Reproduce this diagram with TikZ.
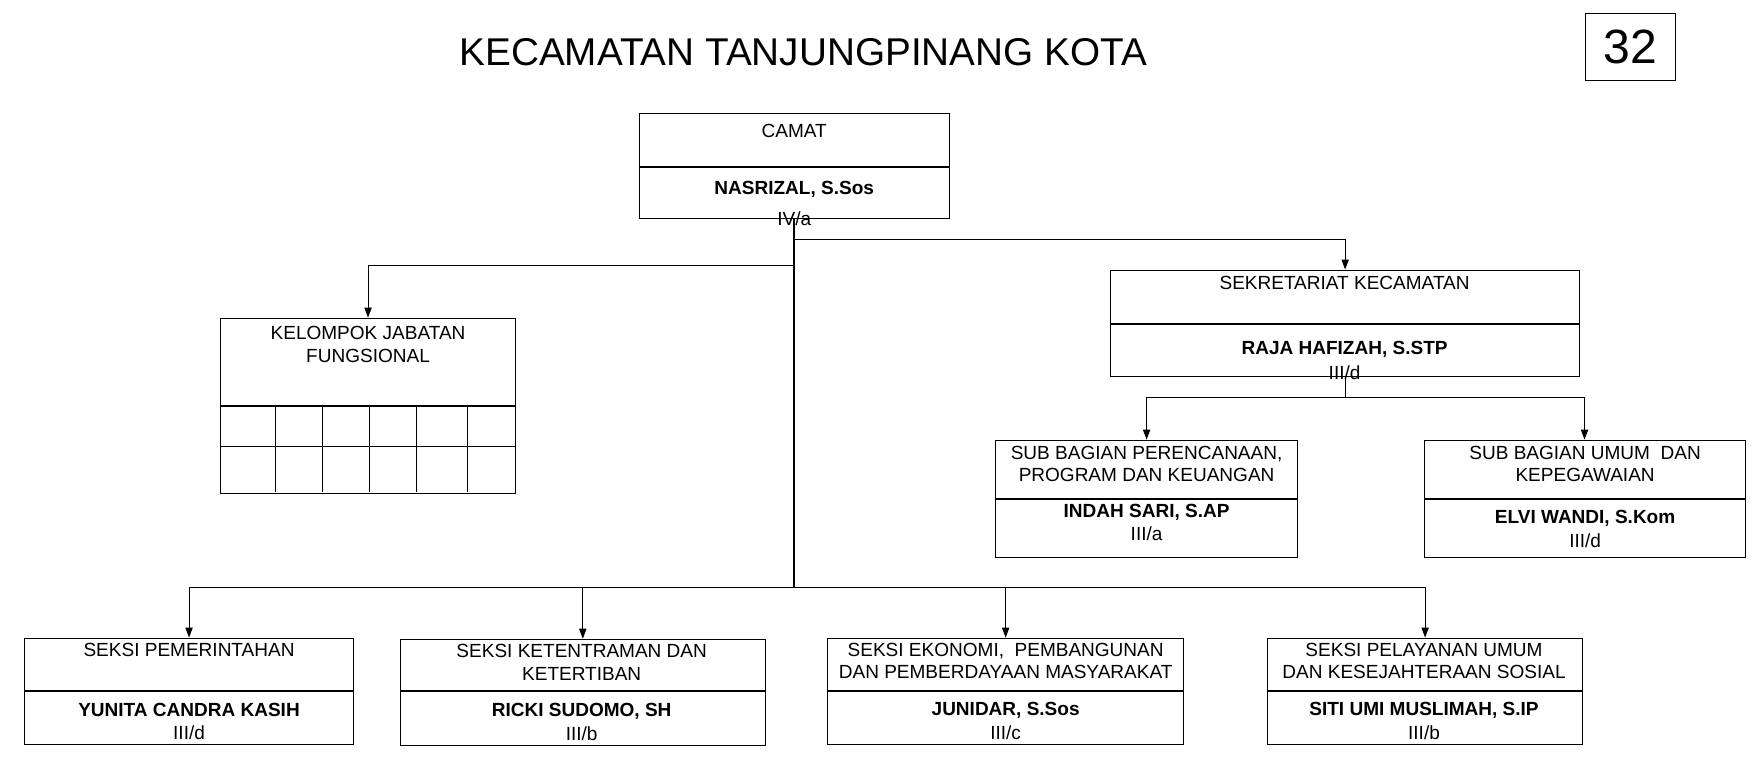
\documentclass[tikz,border=0pt]{standalone}
\usepackage{fontspec}
\setmainfont{Liberation Sans}
\usetikzlibrary{arrows.meta,positioning}
\tikzset{->/.style={-{Triangle[length=9pt,width=6.5pt]}},
  part/.style={draw,rectangle,inner sep=0pt,anchor=north},
  jab/.style={font=\fontsize{17}{20}\selectfont,align=center,inner sep=0pt},
  nama/.style={jab,font=\fontsize{17}{20}\selectfont\bfseries},
  gol/.style={jab}}

\begin{document}
\begin{tikzpicture}[x=1pt,y=-1pt,line width=0.9pt]
  \useasboundingbox (0,0) rectangle (1568,685.7);

  \node[inner sep=0pt,font=\fontsize{34.6}{40}\selectfont] (judul) at (718,46.5) {KECAMATAN TANJUNGPINANG KOTA};
  \node[draw,minimum width=81,minimum height=60.5,inner sep=0pt,font=\fontsize{43}{48}\selectfont] (hal) at (1457.5,42) {32};

  % camat
  \node[part,minimum width=277,minimum height=47] (camat) at (710,101) {};
  \node[part,minimum width=277,minimum height=46] (camatP) at (camat.south) {};
  \node[jab] (camatT) at (710,117) {CAMAT};
  \node[nama] (camatN) at (710,169) {NASRIZAL, S.Sos};
  \node[gol] (camatG) at (710,195.5) {IV/a};

  % kelompok jabatan fungsional
  \node[part,minimum width=264,minimum height=78] (kel) at (329,284) {};
  \node[part,minimum width=264,minimum height=78] (kelP) at (kel.south) {};
  \node[jab] (kelT) at (329,308) {KELOMPOK JABATAN\\FUNGSIONAL};
  \draw (kelP.west |- 0,399) -- (kelP.east |- 0,399);
  \foreach \gx in {246,288,330,372,418}
    \draw (\gx,362) -- (\gx,440);

  % sekretariat
  \node[part,minimum width=419,minimum height=48] (sekr) at (1202.5,241) {};
  \node[part,minimum width=419,minimum height=46] (sekrP) at (sekr.south) {};
  \node[jab] (sekrT) at (1202,253) {SEKRETARIAT KECAMATAN};
  \node[nama] (sekrN) at (1202,312) {RAJA HAFIZAH, S.STP};
  \node[gol] (sekrG) at (1202,333) {III/d};

  % sub bagian
  \node[part,minimum width=270,minimum height=52] (subA) at (1025,393) {};
  \node[part,minimum width=270,minimum height=52] (subAP) at (subA.south) {};
  \node[jab] (subAT) at (1025,415) {SUB BAGIAN PERENCANAAN,\\PROGRAM DAN KEUANGAN};
  \node[nama] (subAN) at (1025,458) {INDAH SARI, S.AP};
  \node[gol] (subAG) at (1025,477) {III/a};

  \node[part,minimum width=287,minimum height=52] (subB) at (1416.5,393) {};
  \node[part,minimum width=287,minimum height=52] (subBP) at (subB.south) {};
  \node[jab] (subBT) at (1417,415) {SUB BAGIAN UMUM\ \ DAN\\KEPEGAWAIAN};
  \node[nama] (subBN) at (1417,463) {ELVI WANDI, S.Kom};
  \node[gol] (subBG) at (1417,483) {III/d};

  % seksi
  \node[part,minimum width=294,minimum height=47] (sek1) at (169,570) {};
  \node[part,minimum width=294,minimum height=47] (sek1P) at (sek1.south) {};
  \node[jab] (sek1T) at (169,581) {SEKSI PEMERINTAHAN};
  \node[nama] (sek1N) at (169,635) {YUNITA CANDRA KASIH};
  \node[gol] (sek1G) at (169,655) {III/d};

  \node[part,minimum width=326,minimum height=46] (sek2) at (521,571) {};
  \node[part,minimum width=326,minimum height=48] (sek2P) at (sek2.south) {};
  \node[jab] (sek2T) at (520,592) {SEKSI KETENTRAMAN DAN\\KETERTIBAN};
  \node[nama] (sek2N) at (520,636) {RICKI SUDOMO, SH};
  \node[gol] (sek2G) at (520,656) {III/b};

  \node[part,minimum width=318,minimum height=47] (sek3) at (899,570) {};
  \node[part,minimum width=318,minimum height=47] (sek3P) at (sek3.south) {};
  \node[jab] (sek3T) at (899,591) {SEKSI EKONOMI,\ \ PEMBANGUNAN\\DAN PEMBERDAYAAN MASYARAKAT};
  \node[nama] (sek3N) at (899,635) {JUNIDAR, S.Sos};
  \node[gol] (sek3G) at (899,655) {III/c};

  \node[part,minimum width=282,minimum height=47] (sek4) at (1274,570) {};
  \node[part,minimum width=282,minimum height=47] (sek4P) at (sek4.south) {};
  \node[jab] (sek4T) at (1273,591) {SEKSI PELAYANAN UMUM\\DAN KESEJAHTERAAN SOSIAL};
  \node[nama] (sek4N) at (1273,635) {SITI UMI MUSLIMAH, S.IP};
  \node[gol] (sek4G) at (1273,655) {III/b};

  % garis
  \coordinate (jSekr) at (710,214);
  \coordinate (jKel) at (710,237);
  \coordinate (jSeksi) at (710,525);
  \coordinate (jSub) at (1202.5,355);

  \draw[line width=1.5pt] (camatP.south) -- (jSeksi);
  \draw[->] (jSekr) -| (sekr.north);
  \draw[->] (jKel) -| (kel.north);
  \draw (sekrP.south) -- (jSub);
  \draw[->] (jSub) -| (subA.north);
  \draw[->] (jSub) -| (subB.north);
  \draw[->] (jSeksi) -| (sek1.north);
  \draw[->] (jSeksi) -| (sek2.north);
  \draw[->] (jSeksi) -| (sek3.north);
  \draw[->] (jSeksi) -| (sek4.north);
\end{tikzpicture}
\end{document}
